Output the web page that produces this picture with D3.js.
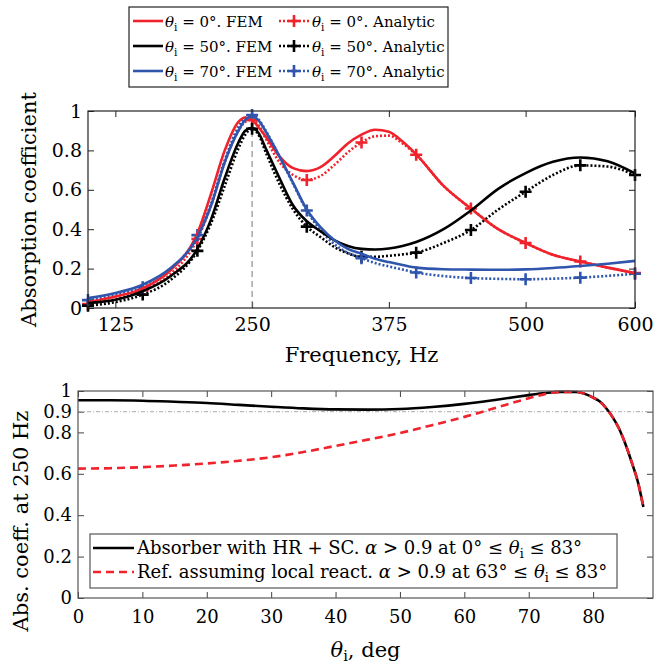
<!DOCTYPE html>
<html>
<head>
<meta charset="utf-8">
<script src="https://cdn.jsdelivr.net/npm/d3@7"></script>
<style>
    body { margin: 0; background: #fff; }
</style>
</head>
<body>
<div id="chart"></div>
<script>
// top panel: absorption vs frequency
let freq = [100, 125, 150, 175, 200, 212.5, 225, 237.5, 243.75, 250, 256.25, 262.5, 275, 287.5, 300,
    312.5, 325, 337.5, 350, 362.5, 375, 387.5, 400, 425, 450, 475, 500, 525, 550, 575, 600];
let fem0 = [0.03, 0.058, 0.10, 0.19, 0.38, 0.58, 0.80, 0.945, 0.967, 0.955, 0.915, 0.87, 0.77, 0.71, 0.695,
    0.715, 0.77, 0.835, 0.88, 0.905, 0.895, 0.845, 0.78, 0.62, 0.505, 0.40, 0.33, 0.27, 0.236, 0.205, 0.177];
let fem50 = [0.025, 0.042, 0.085, 0.16, 0.30, 0.45, 0.66, 0.84, 0.90, 0.915, 0.885, 0.81, 0.66, 0.52, 0.44,
    0.39, 0.345, 0.315, 0.30, 0.297, 0.302, 0.315, 0.335, 0.40, 0.495, 0.605, 0.685, 0.742, 0.764, 0.745, 0.683];
let fem70 = [0.05, 0.076, 0.118, 0.20, 0.36, 0.52, 0.74, 0.90, 0.955, 0.972, 0.95, 0.895, 0.77, 0.635, 0.50,
    0.41, 0.345, 0.30, 0.275, 0.25, 0.233, 0.218, 0.205, 0.197, 0.195, 0.194, 0.196, 0.203, 0.213, 0.225, 0.239];
let ana0 = [0.02, 0.045, 0.09, 0.17, 0.35, 0.52, 0.74, 0.90, 0.945, 0.955, 0.925, 0.86, 0.74, 0.675, 0.65,
    0.67, 0.725, 0.79, 0.84, 0.872, 0.875, 0.835, 0.778, 0.62, 0.505, 0.40, 0.33, 0.27, 0.236, 0.205, 0.177];
let ana50 = [0.012, 0.03, 0.068, 0.14, 0.29, 0.43, 0.62, 0.81, 0.88, 0.91, 0.875, 0.79, 0.63, 0.50, 0.413,
    0.36, 0.31, 0.278, 0.26, 0.26, 0.265, 0.272, 0.281, 0.33, 0.396, 0.50, 0.59, 0.675, 0.724, 0.718, 0.675];
let ana70 = [0.04, 0.065, 0.105, 0.19, 0.37, 0.53, 0.75, 0.92, 0.965, 0.98, 0.955, 0.90, 0.77, 0.63, 0.495,
    0.395, 0.325, 0.28, 0.253, 0.228, 0.211, 0.195, 0.18, 0.162, 0.152, 0.148, 0.146, 0.149, 0.154, 0.163, 0.174];
let markerFreq = [100, 150, 200, 250, 300, 350, 400, 450, 500, 550, 600];
let freqTicks = [125, 250, 375, 500, 600];
let absTicks = [0, 0.2, 0.4, 0.6, 0.8, 1];
let angleLabels = ['0', '50', '70'];

// bottom panel: absorption at 250 Hz vs incidence angle
let angle = [0, 5, 10, 15, 20, 25, 30, 35, 40, 45, 50, 55, 60, 65, 70, 72.5, 75, 77.5, 80, 81, 82, 83, 84, 85, 86, 87, 87.8];
let hrSc = [0.955, 0.955, 0.953, 0.948, 0.942, 0.933, 0.924, 0.916, 0.911, 0.91, 0.913, 0.923, 0.938, 0.958, 0.98,
    0.99, 0.996, 0.995, 0.968, 0.95, 0.918, 0.875, 0.82, 0.745, 0.655, 0.555, 0.44];
let localReact = [0.625, 0.627, 0.632, 0.64, 0.65, 0.663, 0.68, 0.705, 0.735, 0.765, 0.797, 0.835, 0.875, 0.92, 0.965,
    0.985, 0.996, 0.995, 0.968, 0.95, 0.918, 0.875, 0.82, 0.745, 0.655, 0.555, 0.44];
let angleTicks = [0, 10, 20, 30, 40, 50, 60, 70, 80];
let abs250Ticks = [0, 0.2, 0.4, 0.6, 0.8, 0.9, 1];
let threshold = 0.9;
let resonance = 250;

class Chart {

    init() {
        this.svg = d3.select('#chart').append('svg')
            .attr('width', 654)
            .attr('height', 664);
        this.red = '#f0222b';
        this.blue = '#2f55ad';
        this.drawTop();
        this.drawBottom();
        this.svg.selectAll('text')
            .style('font-family', '"DejaVu Serif"')
            .attr('fill', '#000');
    }

    fmt(d) {
        return (d === 0 || d === 1) ? String(d) : d3.format('.1f')(d);
    }

    // theta_i label: italic theta, upright subscript i, then the rest
    theta(sel, rest, size) {
        sel.append('tspan').attr('font-style', 'italic').text('\u03B8');
        sel.append('tspan').attr('font-size', size * 0.7).attr('dy', 4).text('i');
        sel.append('tspan').attr('dy', -4).text(rest);
    }

    frame(g, w, h, color) {
        g.append('rect')
            .attr('width', w).attr('height', h)
            .attr('fill', 'none')
            .attr('stroke', color)
            .attr('stroke-width', 1.2);
    }

    drawTop() {
        let left = 88, top = 111, w = 547, h = 197;
        let g = this.svg.append('g').attr('transform', `translate(${left},${top})`);
        let x = d3.scaleLinear().domain([100, 600]).range([0, w]);
        let y = d3.scaleLinear().domain([0, 1]).range([h, 0]);

        g.append('g').attr('transform', `translate(0,${h})`)
            .call(d3.axisBottom(x).tickValues(freqTicks).tickSize(-6).tickSizeOuter(0).tickPadding(10))
            .call(a => a.selectAll('text').attr('font-size', 19));
        g.append('g')
            .call(d3.axisTop(x).tickValues(freqTicks).tickSize(-6).tickSizeOuter(0).tickFormat(''));
        g.append('g')
            .call(d3.axisLeft(y).tickValues(absTicks).tickSize(-6).tickSizeOuter(0).tickPadding(6).tickFormat(this.fmt))
            .call(a => a.selectAll('text').attr('font-size', 19));
        g.append('g').attr('transform', `translate(${w},0)`)
            .call(d3.axisRight(y).tickValues(absTicks).tickSize(-6).tickSizeOuter(0).tickFormat(''));
        g.selectAll('.domain').remove();
        g.selectAll('.tick line').attr('stroke', '#222');

        g.append('line')
            .attr('x1', x(resonance)).attr('x2', x(resonance))
            .attr('y1', 0).attr('y2', h)
            .attr('stroke', '#777')
            .attr('stroke-width', 1)
            .attr('stroke-dasharray', '6,4');

        let series = [
            {fem: fem0, ana: ana0, color: this.red},
            {fem: fem50, ana: ana50, color: '#000'},
            {fem: fem70, ana: ana70, color: this.blue}
        ];
        let line = d3.line()
            .x((d, i) => x(freq[i]))
            .y(d => y(d))
            .curve(d3.curveMonotoneX);

        series.forEach(s => {
            g.append('path')
                .attr('d', line(s.ana))
                .attr('fill', 'none')
                .attr('stroke', s.color)
                .attr('stroke-width', 2.6)
                .attr('stroke-dasharray', '2,2');
            g.selectAll(null)
                .data(markerFreq)
                .enter().append('path')
                .attr('transform', f => `translate(${x(f)},${y(s.ana[freq.indexOf(f)])})`)
                .attr('d', 'M-6,0H6M0,-6V6')
                .attr('stroke', s.color)
                .attr('stroke-width', 2.6);
        });
        series.forEach(s => {
            g.append('path')
                .attr('d', line(s.fem))
                .attr('fill', 'none')
                .attr('stroke', s.color)
                .attr('stroke-width', 2.6);
        });

        this.frame(g, w, h, '#222');

        this.svg.append('text')
            .attr('x', left + w / 2).attr('y', 362)
            .attr('text-anchor', 'middle')
            .attr('font-size', 21)
            .text('Frequency, Hz');
        this.svg.append('text')
            .attr('transform', `translate(36,${top + h / 2}) rotate(-90)`)
            .attr('text-anchor', 'middle')
            .attr('font-size', 21)
            .text('Absorption coefficient');

        // legend
        let lg = this.svg.append('g');
        lg.append('rect')
            .attr('x', 129).attr('y', 7).attr('width', 319).attr('height', 80)
            .attr('fill', '#fff').attr('stroke', '#222').attr('stroke-width', 1.2);
        series.forEach((s, i) => {
            let cy = 21 + i * 25;
            lg.append('line')
                .attr('x1', 133).attr('x2', 163).attr('y1', cy).attr('y2', cy)
                .attr('stroke', s.color).attr('stroke-width', 2.6);
            this.theta(lg.append('text').attr('x', 165).attr('y', cy + 6).attr('font-size', 15),
                ` = ${angleLabels[i]}\u00B0. FEM`, 15);
            lg.append('line')
                .attr('x1', 279).attr('x2', 309).attr('y1', cy).attr('y2', cy)
                .attr('stroke', s.color).attr('stroke-width', 2.6).attr('stroke-dasharray', '2,2');
            lg.append('path')
                .attr('transform', `translate(294,${cy})`)
                .attr('d', 'M-6,0H6M0,-6V6')
                .attr('stroke', s.color).attr('stroke-width', 2.6);
            this.theta(lg.append('text').attr('x', 312).attr('y', cy + 6).attr('font-size', 15),
                ` = ${angleLabels[i]}\u00B0. Analytic`, 15);
        });
    }

    drawBottom() {
        let left = 78, top = 391, w = 575, h = 207;
        let g = this.svg.append('g').attr('transform', `translate(${left},${top})`);
        let x = d3.scaleLinear().domain([0, 89.3]).range([0, w]);
        let y = d3.scaleLinear().domain([0, 1]).range([h, 0]);

        g.append('g').attr('transform', `translate(0,${h})`)
            .call(d3.axisBottom(x).tickValues(angleTicks).tickSize(-6).tickSizeOuter(0).tickPadding(12))
            .call(a => a.selectAll('text').attr('font-size', 18));
        g.append('g')
            .call(d3.axisTop(x).tickValues(angleTicks).tickSize(-6).tickSizeOuter(0).tickFormat(''));
        g.append('g')
            .call(d3.axisLeft(y).tickValues(abs250Ticks).tickSize(-6).tickSizeOuter(0).tickPadding(6).tickFormat(this.fmt))
            .call(a => a.selectAll('text').attr('font-size', 18));
        g.append('g').attr('transform', `translate(${w},0)`)
            .call(d3.axisRight(y).tickValues(abs250Ticks).tickSize(-6).tickSizeOuter(0).tickFormat(''));
        g.selectAll('.domain').remove();
        g.selectAll('.tick line').attr('stroke', '#444');

        g.append('line')
            .attr('x1', 0).attr('x2', w)
            .attr('y1', y(threshold)).attr('y2', y(threshold))
            .attr('stroke', '#aaa')
            .attr('stroke-width', 1)
            .attr('stroke-dasharray', '4,2,1,2');

        let line = d3.line()
            .x((d, i) => x(angle[i]))
            .y(d => y(d))
            .curve(d3.curveMonotoneX);

        g.append('path')
            .attr('d', line(hrSc))
            .attr('fill', 'none')
            .attr('stroke', '#000')
            .attr('stroke-width', 2.6);
        g.append('path')
            .attr('d', line(localReact))
            .attr('fill', 'none')
            .attr('stroke', this.red)
            .attr('stroke-width', 2.6)
            .attr('stroke-dasharray', '8,5');

        this.frame(g, w, h, '#555');

        // legend
        let lg = this.svg.append('g');
        lg.append('rect')
            .attr('x', 90).attr('y', 534).attr('width', 527).attr('height', 54)
            .attr('fill', '#fff').attr('stroke', '#555').attr('stroke-width', 1.2);
        lg.append('line')
            .attr('x1', 93).attr('x2', 134).attr('y1', 548).attr('y2', 548)
            .attr('stroke', '#000').attr('stroke-width', 2.6);
        lg.append('line')
            .attr('x1', 93).attr('x2', 134).attr('y1', 572).attr('y2', 572)
            .attr('stroke', this.red).attr('stroke-width', 2.6).attr('stroke-dasharray', '8,5');

        let t1 = lg.append('text').attr('x', 137).attr('y', 554).attr('font-size', 18);
        t1.append('tspan').text('Absorber with HR + SC. ');
        t1.append('tspan').attr('font-style', 'italic').text('\u03B1');
        t1.append('tspan').text(' > 0.9 at 0\u00B0 \u2264 ');
        this.theta(t1, ' \u2264 83\u00B0', 18);

        let t2 = lg.append('text').attr('x', 137).attr('y', 578).attr('font-size', 18);
        t2.append('tspan').text('Ref. assuming local react. ');
        t2.append('tspan').attr('font-style', 'italic').text('\u03B1');
        t2.append('tspan').text(' > 0.9 at 63\u00B0 \u2264 ');
        this.theta(t2, ' \u2264 83\u00B0', 18);

        let xl = this.svg.append('text')
            .attr('x', left + w / 2).attr('y', 657)
            .attr('text-anchor', 'middle')
            .attr('font-size', 21);
        this.theta(xl, ', deg', 21);

        this.svg.append('text')
            .attr('transform', 'translate(28,521) rotate(-90)')
            .attr('text-anchor', 'middle')
            .attr('font-size', 21)
            .text('Abs. coeff. at 250 Hz');
    }
}

window.chart = new Chart();
window.chart.init();
</script>
</body>
</html>
